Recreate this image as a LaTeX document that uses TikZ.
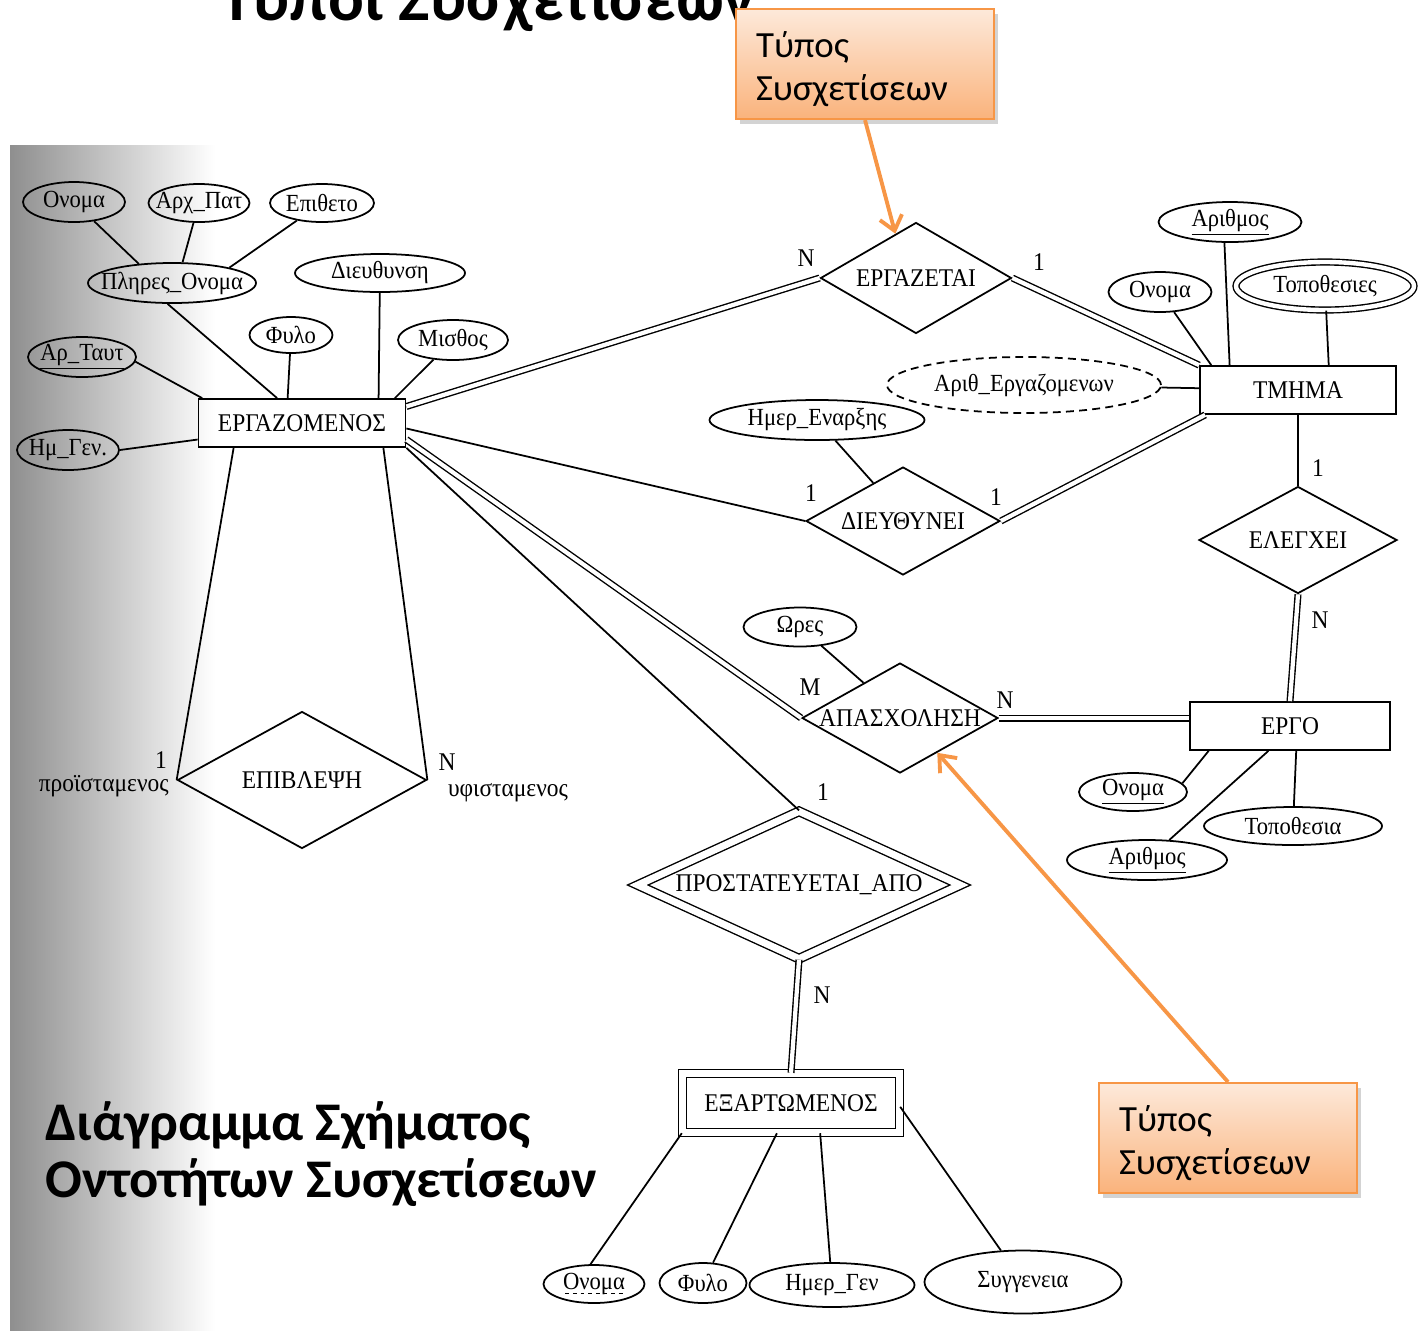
\documentclass[tikz,border=0pt]{standalone}
\usepackage{fontspec}
\setmainfont{Liberation Serif}
\newfontfamily\erfont{Liberation Serif}[FakeStretch=0.92]
\newfontfamily\calfont{Carlito}
\usetikzlibrary{shapes.geometric,arrows.meta,shadows}
\definecolor{calltop}{HTML}{FDE9DA}
\definecolor{callbot}{HTML}{FAB37C}
\definecolor{callline}{HTML}{F79646}
\newcommand\zerow[1]{\makebox[0pt]{#1}}
\newcommand\dashunder[1]{\setbox0\hbox{#1}\rlap{\raisebox{-2.5pt}{\hbox to \wd0{\xleaders\hbox to 4pt{\hss\vrule width 2.2pt height 0.6pt\hss}\hfill}}}\box0}
\tikzset{
  ent/.style 2 args={draw, rectangle, line width=1pt, inner sep=0pt,
    minimum width=#1*0.02cm, minimum height=#2*0.02cm,
    font=\erfont\fontsize{14.5pt}{16pt}\selectfont},
  rel/.style 2 args={draw, diamond, line width=1pt, inner sep=0pt,
    minimum width=#1*0.02cm, minimum height=#2*0.02cm,
    font=\erfont\fontsize{14.5pt}{16pt}\selectfont},
  attr/.style 2 args={draw, ellipse, line width=1pt, inner sep=0pt,
    minimum width=#1*0.02cm, minimum height=#2*0.02cm,
    font=\erfont\fontsize{14pt}{16pt}\selectfont},
  weak/.style={double, double distance=4pt, line width=0.8pt},
  multi/.style={double, double distance=2.5pt, line width=0.8pt},
  derived/.style={dashed, dash pattern=on 4.5pt off 3pt},
  link/.style={line width=1pt},
  total/.style={double, double distance=2.4pt, line width=0.8pt},
  card/.style={inner sep=0pt, font=\erfont\fontsize{14.5pt}{16pt}\selectfont},
  note/.style={draw=callline, line width=1.2pt, top color=calltop, bottom color=callbot,
    drop shadow={shadow xshift=2pt, shadow yshift=-3pt, opacity=0.35},
    minimum width=5.16cm, minimum height=2.2cm, inner xsep=0.4cm,
    text width=4.36cm, align=left, font=\calfont\fontsize{21pt}{24.5pt}\selectfont},
  pointer/.style={draw=callline, line width=2.2pt, -{Straight Barb[length=8pt, width=13pt]}}
}
\begin{document}
\begin{tikzpicture}[x=0.02cm, y=-0.02cm]
\useasboundingbox (0,0) rectangle (1423,1330);
\shade[left color=black!44, right color=white] (10,145) rectangle (215,1330);
\node[anchor=base west, inner sep=0pt, font=\calfont\bfseries\fontsize{38pt}{44pt}\selectfont] (title) at (220,20) {Τύποι Συσχετίσεων};
\node[anchor=base west, inner sep=0pt, font=\calfont\bfseries\fontsize{31pt}{35pt}\selectfont] (caption1) at (45,1140) {Διάγραμμα Σχήματος};
\node[anchor=base west, inner sep=0pt, font=\calfont\bfseries\fontsize{31pt}{35pt}\selectfont] (caption2) at (45,1197) {Οντοτήτων Συσχετίσεων};
%
% entities
\node[ent={207}{48}] (emp) at (302,423) {ΕΡΓΑΖΟΜΕΝΟΣ};
\node[ent={196}{48}] (dept) at (1298,390) {ΤΜΗΜΑ};
\node[ent={200}{48}] (proj) at (1290,726) {ΕΡΓΟ};
\node[ent={217}{59}, weak] (dep) at (791,1103) {ΕΞΑΡΤΩΜΕΝΟΣ};
%
% relationships
\node[rel={191}{111}] (works) at (916,278) {\zerow{ΕΡΓΑΖΕΤΑΙ}};
\node[rel={194}{108}] (manages) at (903,521) {\zerow{ΔΙΕΥΘΥΝΕΙ}};
\node[rel={198}{107}] (controls) at (1298,540) {\zerow{ΕΛΕΓΧΕΙ}};
\node[rel={196}{110}] (worksOn) at (900,718) {\zerow{ΑΠΑΣΧΟΛΗΣΗ}};
\node[rel={249}{137}] (supervision) at (302,780) {\zerow{ΕΠΙΒΛΕΨΗ}};
\node[rel={323}{148}, weak] (depOf) at (799,885) {\zerow{ΠΡΟΣΤΑΤΕΥΕΤΑΙ\_ΑΠΟ}};
%
% attributes of ΕΡΓΑΖΟΜΕΝΟΣ
\node[attr={102}{40}] (empName) at (74,202) {\zerow{Ονομα}};
\node[attr={101}{38}] (empInit) at (199,203) {\zerow{Αρχ\_Πατ}};
\node[attr={104}{38}] (empSurname) at (322,203) {\zerow{Επιθετο}};
\node[attr={168}{40}] (empFull) at (172,283) {\zerow{Πληρες\_Ονομα}};
\node[attr={170}{38}] (empAddr) at (380,273) {\zerow{Διευθυνση}};
\node[attr={83}{36}] (empSex) at (291,335) {\zerow{Φυλο}};
\node[attr={110}{40}] (empSalary) at (453,340) {\zerow{Μισθος}};
\node[attr={108}{40}] (empId) at (82,357) {\zerow{\underline{Αρ\_Ταυτ}}};
\node[attr={102}{40}] (empBirth) at (68,450) {\zerow{Ημ\_Γεν.}};
%
% attributes of ΤΜΗΜΑ
\node[attr={143}{40}] (deptNo) at (1230,222) {\zerow{\underline{Αριθμος}}};
\node[attr={103}{40}] (deptName) at (1160,292) {\zerow{Ονομα}};
\node[attr={178}{48}, multi] (deptLoc) at (1325,286) {\zerow{Τοποθεσιες}};
\node[attr={274}{56}, derived] (deptCount) at (1024,385) {\zerow{Αριθ\_Εργαζομενων}};
%
% attributes of ΕΡΓΟ
\node[attr={108}{38}] (projName) at (1133,792) {\zerow{\underline{Ονομα}}};
\node[attr={178}{38}] (projLoc) at (1293,826) {\zerow{Τοποθεσια}};
\node[attr={160}{40}] (projNo) at (1147,860) {\zerow{\underline{Αριθμος}}};
%
% attributes of relationships
\node[attr={113}{39}] (hours) at (800,627) {\zerow{Ωρες}};
\node[attr={215}{40}] (startDate) at (817,420) {\zerow{Ημερ\_Εναρξης}};
%
% attributes of ΕΞΑΡΤΩΜΕΝΟΣ
\node[attr={101}{38}] (depName) at (594,1284) {\zerow{\dashunder{Ονομα}}};
\node[attr={87}{40}] (depSex) at (703,1283) {\zerow{Φυλο}};
\node[attr={165}{44}] (depBirth) at (832,1285) {\zerow{Ημερ\_Γεν}};
\node[attr={197}{63}] (depRel) at (1023,1282) {\zerow{Συγγενεια}};
%
% attribute links
\draw[link] (empName) -- (empFull.150);
\draw[link] (empInit) -- (empFull.63);
\draw[link] (empSurname) -- (empFull.15);
\draw[link] (empFull.-102) -- (emp.135);
\draw[link] (empSex) -- (emp.120);
\draw[link] (empAddr) -- (emp.18);
\draw[link] (empSalary) -- (emp.15);
\draw[link] (empId.-5) -- (emp.166);
\draw[link] (empBirth.east) -- (emp.189);
\draw[link] (deptNo.-105) -- (dept.160);
\draw[link] (deptName) -- (dept.164);
\draw[link] (deptLoc) -- (dept.39);
\draw[link] (deptCount) -- (dept);
\draw[link] (projName.10) -- (proj.197);
\draw[link] (projNo) -- (proj.-131);
\draw[link] (projLoc) -- (proj.-76);
\draw[link] (hours) -- (worksOn.136);
\draw[link] (startDate) -- (manages.128);
\draw[link] (depName.100) -- (dep.south west);
\draw[link] (depSex) -- (dep.-115);
\draw[link] (depBirth) -- (dep.-46);
\draw[link] (depRel) -- (dep.-2);
%
% relationship links
\draw[total] (emp.9) -- (works.west);
\draw[total] (works.east) -- (dept.north west);
\draw[link] (emp.-3) -- (manages.west);
\draw[total] (manages.east) -- (dept.195);
\draw[link] (dept.south) -- (controls.north);
\draw[total] (controls.south) -- (proj.north);
\draw[total] (emp.-9) -- (worksOn.west);
\draw[total] (worksOn.east) -- (worksOn.east -| proj.west);
\draw[link] (emp.200) -- (supervision.west);
\draw[link] (emp.-17) -- (supervision.east);
\draw[link] (emp.south east) -- (depOf.north);
\draw[total] (depOf.south) -- (dep.north);
%
% cardinalities and roles
\node[card] (cWorksN) at (806,258) {N};
\node[card] (cWorks1) at (1039,262) {1};
\node[card] (cMan1) at (811,493) {1};
\node[card] (cMan2) at (996,497) {1};
\node[card] (cCon1) at (1318,468) {1};
\node[card] (cConN) at (1320,620) {N};
\node[card] (cOnM) at (810,687) {M};
\node[card] (cOnN) at (1005,700) {N};
\node[card] (cDep1) at (823,792) {1};
\node[card] (cDepN) at (822,995) {N};
\node[card] (cSup1) at (161,760) {1};
\node[card] (cSupN) at (447,762) {N};
\node[card, anchor=east] (roleBoss) at (169,786) {προϊσταμενος};
\node[card] (roleSub) at (508,793) {υφισταμενος};
%
% callouts
\node[note, anchor=north west] (noteTop) at (735,8) {\rule{0pt}{20pt}Τύπος\\Συσχετίσεων};
\node[note, anchor=north west] (noteBottom) at (1098,1082) {\rule{0pt}{20pt}Τύπος\\Συσχετίσεων};
\draw[pointer] (noteTop.south) -- (works.115);
\draw[pointer] (noteBottom.north) -- (worksOn.-43);
\end{tikzpicture}
\end{document}
